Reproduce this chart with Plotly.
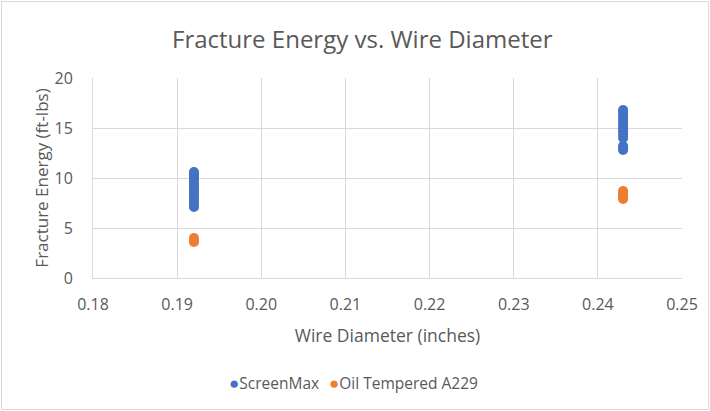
import plotly.graph_objects as go

# Data
sm_x = [0.192] * 14 + [0.243] * 14
sm_y = [7.1, 7.4, 7.7, 8.0, 8.2, 8.5, 8.8, 9.0, 9.3, 9.6, 9.9, 10.2, 10.4, 10.6,
        12.8, 13.0, 13.2, 14.0, 14.3, 14.6, 14.9, 15.1, 15.4, 15.7, 16.0, 16.3, 16.6, 16.8]
ot_x = [0.192] * 3 + [0.243] * 5
ot_y = [3.6, 3.8, 4.0, 7.9, 8.1, 8.3, 8.5, 8.7]

x_ticks = [0.18, 0.19, 0.20, 0.21, 0.22, 0.23, 0.24, 0.25]
x_labels = ["0.18", "0.19", "0.20", "0.21", "0.22", "0.23", "0.24", "0.25"]
y_ticks = [0, 5, 10, 15, 20]
series_names = ["ScreenMax", "Oil Tempered A229"]
series_colors = ["#4472C4", "#ED7D31"]

W, H = 710, 411
L, R, T, B = 93, 682, 78, 278
pw, ph = R - L, B - T

def px(x):
    return (x - L) / pw

def py(y):
    return (B - y) / ph

font = "Open Sans, sans-serif"
grey = "#595959"

fig = go.Figure()
fig.add_trace(go.Scatter(x=sm_x, y=sm_y, mode="markers", name=series_names[0],
                         marker=dict(color=series_colors[0], size=10)))
fig.add_trace(go.Scatter(x=ot_x, y=ot_y, mode="markers", name=series_names[1],
                         marker=dict(color=series_colors[1], size=10)))

# Legend drawn as text entries (marker glyph directly beside the name, as in the reference)
legend_ann = []
for name, color, xpos in zip(series_names, series_colors, [227, 327]):
    legend_ann.append(dict(
        text=f"<span style='color:{color};font-size:17px'>●</span>{name}",
        x=px(xpos), y=py(382), xref="paper", yref="paper", showarrow=False,
        xanchor="left", yanchor="middle", font=dict(size=15.5, color=grey, family=font)))

fig.update_layout(
    width=W, height=H,
    margin=dict(l=L, r=W - R, t=T, b=H - B, pad=0),
    paper_bgcolor="white", plot_bgcolor="white",
    font=dict(family=font, color=grey, size=15),
    showlegend=False,
    annotations=[
        dict(text="Fracture Energy vs. Wire Diameter", x=px(362), y=py(38),
             xref="paper", yref="paper", showarrow=False, xanchor="center", yanchor="middle",
             font=dict(size=24, color=grey, family=font)),
    ] + legend_ann,
    shapes=[
        dict(type="rect", xref="paper", yref="paper", x0=px(1.5), x1=px(708.5), y0=py(1.5), y1=py(409.5),
             line=dict(color="#D9D9D9", width=1), fillcolor="rgba(0,0,0,0)", layer="below"),
    ],
)

fig.update_xaxes(range=[0.18, 0.25], tickvals=x_ticks, ticktext=x_labels,
                 showgrid=True, gridcolor="#D9D9D9", gridwidth=1,
                 showline=True, linecolor="#D9D9D9", linewidth=1, mirror=False,
                 zeroline=False, ticks="", ticklabelstandoff=12,
                 title=dict(text="Wire Diameter (inches)", standoff=15,
                            font=dict(size=17.5, color=grey)),
                 tickfont=dict(size=16, color=grey))
fig.update_yaxes(range=[0, 20], tickvals=y_ticks,
                 showgrid=True, gridcolor="#D9D9D9", gridwidth=1,
                 showline=True, linecolor="#D9D9D9", linewidth=1,
                 zeroline=False, ticks="", ticklabelstandoff=16,
                 title=dict(text="Fracture Energy (ft-lbs)", standoff=1,
                            font=dict(size=17, color=grey)),
                 tickfont=dict(size=16, color=grey))

fig.write_html("out.html", config={"displayModeBar": False},
               post_script="document.body.style.margin='0';document.body.style.overflow='hidden';")
